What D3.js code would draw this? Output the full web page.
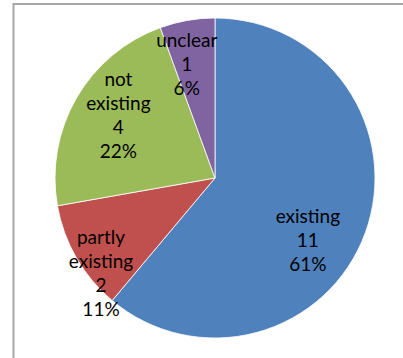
<!DOCTYPE html>
<html>
<head>
<meta charset="utf-8">
<script src="https://cdn.jsdelivr.net/npm/d3@7"></script>
<style>
  html, body { margin: 0; padding: 0; background: #fff; overflow: hidden; }
</style>
</head>
<body>
<script>
// data
const categories = ["existing", "partly existing", "not existing", "unclear"]
const counts = [11, 2, 4, 1]
const percents = ["61%", "11%", "22%", "6%"]
const colors = ["#4F81BD", "#C0504D", "#9BBB59", "#8064A2"]

// label layout (Excel "best fit" places them a bit off the middle)
const labelLines = [["existing"], ["partly", "existing"], ["not", "existing"], ["unclear"]]
const labelAngle = [124, 230, 303, 346]   // degrees, clockwise from 12 o'clock
const labelRadius = [0.70, 0.93, 0.72, 0.73]

const width = 403
const height = 358
const cx = 215
const cy = 178
const r = 160
const lineHeight = 24

const svg = d3.select("body").append("svg")
    .attr("width", width)
    .attr("height", height)
    .attr("viewBox", [0, 0, width, height])

// chart area frame (only top and left edges are inside the crop)
svg.append("rect")
    .attr("x", 13.5)
    .attr("y", 4)
    .attr("width", width + 20)
    .attr("height", height + 20)
    .attr("fill", "none")
    .attr("stroke", "#a6a6a6")
    .attr("stroke-width", 2)

const data = categories.map((name, i) => ({ name, value: counts[i], pct: percents[i], i }))

const pie = d3.pie().value(d => d.value).sort(null)
const arc = d3.arc().innerRadius(0).outerRadius(r)

const g = svg.append("g").attr("transform", `translate(${cx},${cy})`)

g.selectAll("path")
    .data(pie(data))
    .join("path")
    .attr("d", arc)
    .attr("fill", d => colors[d.data.i])
    .attr("stroke", "#fff")
    .attr("stroke-width", 0.8)

const labels = g.selectAll("text")
    .data(pie(data))
    .join("text")
    .attr("text-anchor", "middle")
    .attr("fill", "#000")
    .style("font", "19px Lato, 'Noto Sans', sans-serif")
    .attr("transform", d => {
        const i = d.data.i
        const a = labelAngle[i] * Math.PI / 180
        const rr = r * labelRadius[i]
        return `translate(${rr * Math.sin(a)},${-rr * Math.cos(a)})`
    })

labels.each(function (d) {
    const lines = labelLines[d.data.i].concat([String(d.data.value), d.data.pct])
    const t = d3.select(this)
    const offset = -(lines.length - 1) / 2 * lineHeight
    lines.forEach((line, k) => {
        t.append("tspan")
            .attr("x", 0)
            .attr("y", offset + k * lineHeight)
            .attr("dy", "0.35em")
            .text(line)
    })
})
</script>
</body>
</html>
